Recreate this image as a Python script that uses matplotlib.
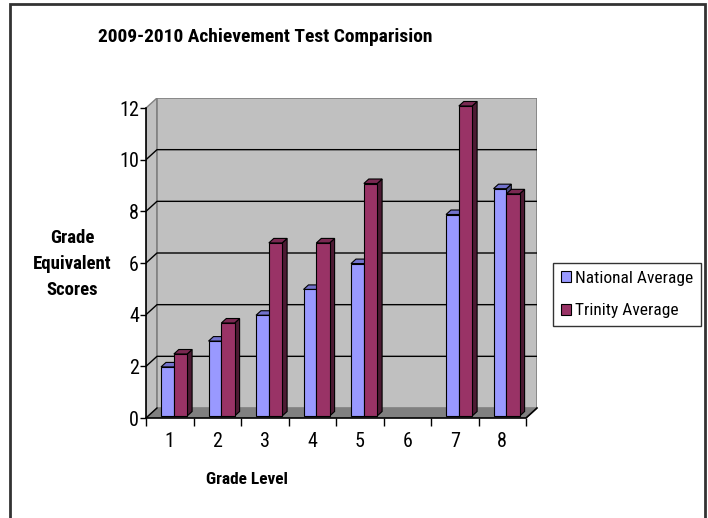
import numpy as np
import matplotlib
matplotlib.use("Agg")
import matplotlib.pyplot as plt
from matplotlib.patches import Polygon, Rectangle, Patch

# data
grades = ['1', '2', '3', '4', '5', '6', '7', '8']
national = [1.9, 2.9, 3.9, 4.9, 5.9, np.nan, 7.8, 8.8]
trinity = [2.4, 3.6, 6.7, 6.7, 9.0, np.nan, 12.0, 8.6]
y_ticks = [0, 2, 4, 6, 8, 10, 12]

# narrow Arial-like look
plt.rcParams['font.family'] = ['Roboto Condensed', 'Liberation Sans', 'DejaVu Sans']

nat_cols = ('#9999FF', '#7272CC', '#4D4D80')
tri_cols = ('#993366', '#7A2952', '#4D1A33')

W, H = 708, 518
fig = plt.figure(figsize=(W / 100, H / 100), dpi=100)

# depth of the 3d box in data units
ddx = 11 / 47.5
ddy = 10 / 25.83
n = len(grades)
ymax = 12

ax = fig.add_axes([146 / W, (H - 418) / H, 391 / W, 320 / H])
ax.set_xlim(0, n + ddx)
ax.set_ylim(0, ymax + ddy)
ax.patch.set_visible(False)
for s in ax.spines.values():
    s.set_visible(False)

wall = '#C0C0C0'
edge = '#808080'

# floor, side wall, back wall
ax.add_patch(Polygon([(0, 0), (n, 0), (n + ddx, ddy), (ddx, ddy)],
                     closed=True, facecolor='#808080', edgecolor=edge, lw=1, zorder=1))
ax.add_patch(Polygon([(0, 0), (ddx, ddy), (ddx, ymax + ddy), (0, ymax)],
                     closed=True, facecolor=wall, edgecolor=edge, lw=1, zorder=1))
ax.add_patch(Rectangle((ddx, ddy), n, ymax, facecolor=wall, edgecolor=edge,
                       lw=1.2, zorder=1))

# gridlines on back and side wall
for yv in y_ticks[1:-1]:
    ax.plot([0, ddx, n + ddx], [yv, yv + ddy, yv + ddy], color='black', lw=1, zorder=2)
ax.plot([0, ddx], [0, ddy], color='black', lw=1, zorder=2)

# axis lines
ax.plot([0, 0], [0, ymax], color='black', lw=1.2, zorder=5, clip_on=False)
ax.plot([0, n, n + ddx], [0, 0, ddy], color='black', lw=1.2, zorder=5, clip_on=False)

# bars
f0 = 0.2
base = f0 * ddy
xoff = f0 * ddx
bdx = 0.45 * ddx
bdy = 0.45 * ddy
widths = [0.27, 0.28]
lefts = [0.27, 0.54]


def box(x0, w, v, cols):
    fc, tc, sc_ = cols
    side = [(x0 + w, base), (x0 + w + bdx, base + bdy),
            (x0 + w + bdx, base + v + bdy), (x0 + w, base + v)]
    top = [(x0, base + v), (x0 + w, base + v),
           (x0 + w + bdx, base + v + bdy), (x0 + bdx, base + v + bdy)]
    ax.add_patch(Polygon(side, closed=True, facecolor=sc_, edgecolor='black',
                         lw=0.8, zorder=3, clip_on=False))
    ax.add_patch(Polygon(top, closed=True, facecolor=tc, edgecolor='black',
                         lw=0.8, zorder=3, clip_on=False))
    ax.add_patch(Rectangle((x0, base), w, v, facecolor=fc, edgecolor='black',
                           lw=0.8, zorder=3, clip_on=False))


for i in range(n):
    for k, (vals, cols) in enumerate([(national, nat_cols), (trinity, tri_cols)]):
        v = vals[i]
        if np.isnan(v):
            continue
        box(i + lefts[k] + xoff, widths[k], v, cols)

# ticks
ax.set_yticks(y_ticks)
ax.set_yticklabels([str(t) for t in y_ticks], fontsize=14.5)
ax.tick_params(axis='y', length=4, width=1, pad=1, colors='black')
ax.set_xticks(np.arange(n) + 0.5)
ax.set_xticklabels(grades, fontsize=14.5)
ax.set_xticks(np.arange(n + 1), minor=True)
ax.tick_params(axis='x', which='major', length=0, pad=10)
ax.tick_params(axis='x', which='minor', length=6, width=1, colors='black')

# texts
fig.text(265 / W, 1 - 37 / H, '2009-2010 Achievement Test Comparision',
         ha='center', va='center', fontsize=14, fontweight='bold')
fig.text(247 / W, 1 - 479 / H, 'Grade Level', ha='center', va='center',
         fontsize=12.5, fontweight='bold')
fig.text(72 / W, 1 - 264 / H, 'Grade\nEquivalent\nScores', ha='center',
         va='center', fontsize=13.5, fontweight='bold', linespacing=1.55)

handles = [Patch(facecolor=nat_cols[0], edgecolor='black', lw=0.8),
           Patch(facecolor=tri_cols[0], edgecolor='black', lw=0.8)]
leg = fig.legend(handles, ['National Average', 'Trinity Average'],
                 loc='upper left', bbox_to_anchor=(553 / W, 1 - 263 / H),
                 fontsize=12.5, frameon=True, fancybox=False,
                 handlelength=0.6, handleheight=0.6, handletextpad=0.2,
                 borderpad=0.45, borderaxespad=0, labelspacing=1.0)
leg.get_frame().set_edgecolor('black')
leg.get_frame().set_linewidth(1)

# outer chart border
fig.patches.append(Rectangle((10 / W, -0.05), 695 / W, 1.05 - 4.5 / H,
                             transform=fig.transFigure, fill=False,
                             edgecolor='#333333', lw=2))

fig.savefig('out.png', dpi=100)
